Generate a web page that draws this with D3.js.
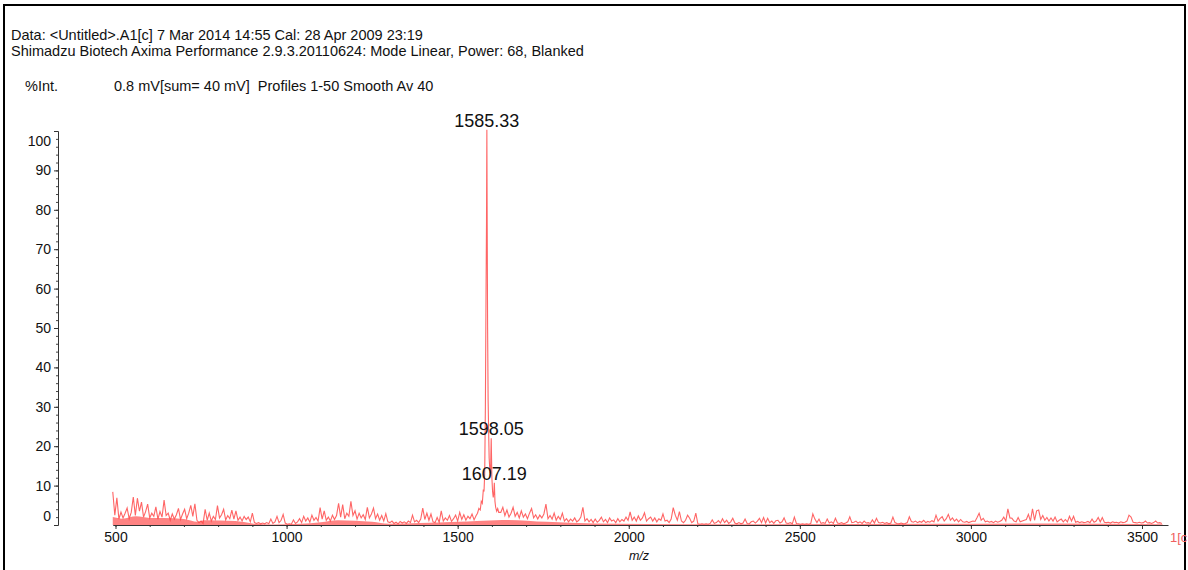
<!DOCTYPE html>
<html>
<head>
<meta charset="utf-8">
<script src="https://cdn.jsdelivr.net/npm/d3@7"></script>
<style>
  body { margin: 0; background: #fff; }
  text { font-family: Arial, "Liberation Sans", sans-serif; white-space: pre; }
</style>
</head>
<body>
<script>
// header lines
var headerLines = [
  "Data: <Untitled>.A1[c] 7 Mar 2014 14:55 Cal: 28 Apr 2009 23:19",
  "Shimadzu Biotech Axima Performance 2.9.3.20110624: Mode Linear, Power: 68, Blanked"
];
var infoLine = "0.8 mV[sum= 40 mV]  Profiles 1-50 Smooth Av 40";

var xTicks = [500, 1000, 1500, 2000, 2500, 3000, 3500];
var yTicks = [0, 10, 20, 30, 40, 50, 60, 70, 80, 90, 100];

// noise, step 6 m/z
var step = 6;
var startA = 492;
var noiseA = [
  8.4, 2.5, 6.9, 1.5, 3.3, 1.8, 3.0, 4.3, 1.6, 3.2,
  7.1, 2.4, 6.8, 3.5, 5.8, 2.0, 3.4, 5.3, 1.8, 3.0,
  2.2, 4.6, 1.5, 3.4, 2.0, 6.3, 2.4, 3.0, 1.2, 2.8,
  1.5, 2.6, 4.2, 1.4, 2.8, 4.0, 1.6, 3.0, 5.0, 2.2,
  5.4, 1.2, 0.6, 1.0, 0.4, 4.0, 1.2, 3.0, 1.0, 2.2,
  1.4, 4.9, 1.8, 2.6, 4.0, 1.3, 2.4, 1.6, 3.8, 1.5,
  3.6, 1.2, 2.0, 1.0, 2.2, 1.4, 2.0, 0.8, 3.0, 0.6,
  0.4, 0.6, 0.3, 0.5, 0.3, 0.6, 0.3, 1.5, 0.4, 0.8,
  2.2, 0.6, 1.2, 2.7, 0.5, 0.2, 0.3, 0.2, 1.3, 0.4,
  0.8, 1.6, 0.6, 2.2, 1.0, 1.8, 0.7, 2.5, 1.2, 1.9,
  1.0, 4.4, 1.5, 3.6, 1.2, 2.0, 1.0, 2.5, 1.4, 2.4,
  5.5, 2.0, 5.2, 1.6, 3.0, 2.2, 6.0, 2.4, 3.6, 1.5,
  3.0, 1.8, 2.6, 1.4, 4.5, 1.8, 2.8, 4.3,
  1.6, 2.8, 1.2, 2.4, 1.0, 2.9, 0.8, 0.6, 1.0, 0.4,
  0.7, 0.3, 0.9, 0.5, 0.8, 0.4, 1.0, 0.6, 2.5, 0.8,
  1.2, 0.6, 1.5, 4.3, 1.4, 3.0, 1.2, 2.8, 0.8, 0.6,
  1.9, 0.7, 3.6, 1.0, 1.8, 1.2, 2.4, 0.9, 1.6, 2.5,
  1.0, 3.2, 1.4, 2.6, 1.2, 2.2, 1.6, 2.8, 1.3, 2.4
];

// main peak cluster
var peakMz = [1558, 1562, 1566, 1569, 1572, 1575, 1577, 1579, 1581, 1583, 1584.3,
  1585.33, 1586.3, 1587.5, 1589, 1590.5, 1592, 1594, 1596, 1598.05, 1600, 1602,
  1604, 1605.5, 1607.19, 1609, 1611, 1614, 1617, 1620];
var peakInt = [3.0, 4.2, 3.8, 6.0, 5.5, 9.0, 8.5, 13, 30, 60, 77,
  100.3, 76, 50, 31.7, 24, 17, 14, 13, 22, 12, 8.5,
  7, 8, 10.7, 6, 4.5, 3.5, 4.2, 3.2];

var startC = 1626;
var noiseC = [
  3.2, 4.5, 2.4, 3.8, 2.0, 3.0, 4.5, 2.2, 3.2, 1.8,
  3.6, 2.0, 2.8, 1.6, 3.0, 4.2, 1.8, 2.6, 1.5, 2.5,
  1.8, 2.8, 5.3, 1.6, 2.4, 1.5, 3.0, 1.2, 2.2, 1.4,
  3.0, 1.0, 1.6, 0.8, 1.5, 1.0, 1.8, 0.8, 1.2, 2.0,
  4.5, 1.0, 1.6, 0.8, 1.4, 0.6, 1.5, 0.7, 1.2, 2.0,
  0.8, 1.4, 0.6, 1.8, 1.0, 1.3, 0.6, 1.6, 0.8, 1.4,
  1.0, 2.0, 1.2, 3.3, 1.2, 2.0, 1.0, 2.3, 1.2, 1.8,
  3.1, 1.0, 1.6, 2.0, 1.0, 1.8, 0.8, 1.6, 1.2, 2.8,
  1.0, 1.2, 0.6, 1.5, 4.4, 2.5, 1.2, 3.4, 1.0, 0.6,
  1.2, 2.5, 1.7, 0.6, 1.0, 3.0, 0.3, 0.2, 0.3, 0.2,
  0.3, 0.2, 0.4, 1.3, 0.4, 0.6, 1.1, 0.5, 1.6, 0.6,
  1.2, 0.4, 0.8, 1.7, 0.5, 0.3, 0.6, 0.3, 0.5, 1.5,
  0.4, 0.3, 0.8, 1.0, 0.5, 1.0, 1.7, 0.6, 1.9, 0.5,
  1.7, 0.6, 1.0, 0.4, 1.1, 1.2, 0.5, 0.8, 1.8, 0.5,
  0.4, 0.6, 0.3, 2.0, 0.4, 0.3, 0.2, 0.3, 0.2, 0.3,
  0.2, 0.4, 2.8, 1.5, 0.6, 1.5, 0.4, 0.6, 0.4, 1.5,
  0.5, 0.8, 0.4,
  1.7, 0.5, 0.4, 0.6, 0.3, 0.5, 0.8, 2.1, 0.6, 0.7,
  1.0, 0.5, 0.8, 0.4, 1.0, 0.5, 0.6, 0.4, 1.3, 0.5,
  1.7, 0.6, 0.5, 0.7, 0.4, 0.6, 0.3, 0.5, 2.0, 0.6,
  0.4, 0.3, 0.5, 0.3, 0.4, 0.6, 2.1, 0.9, 0.7, 1.0,
  0.6, 0.9, 0.7, 1.2, 0.6, 0.9, 0.7, 1.1, 0.8, 2.5,
  1.0, 1.7, 2.1, 1.0, 1.6, 2.7, 1.2, 1.8, 1.0, 1.5,
  0.8, 1.4, 0.8, 0.7, 0.9, 0.6, 0.8, 1.0, 0.9, 1.9,
  3.0, 1.2, 1.7, 0.8, 1.0, 0.7, 0.9, 0.6, 1.0, 0.7,
  0.9, 1.2, 2.0, 1.0, 4.1, 1.8, 1.7, 1.0, 0.8, 1.9,
  0.8, 1.0, 1.2, 1.4, 2.7, 1.0, 4.1, 1.2, 3.6, 3.8,
  1.4, 2.4, 1.2, 1.9, 1.0, 1.8, 1.0, 2.0, 0.8, 1.2,
  1.5, 0.8, 1.4, 0.8, 2.2, 1.0, 2.2, 0.7, 0.9, 0.6,
  0.8, 0.6, 0.7, 0.9, 0.6, 1.5, 0.7, 1.0, 1.9, 0.8,
  1.9, 0.7, 0.6, 0.7, 0.5, 0.8, 0.6, 0.7, 0.5, 0.8,
  0.6, 0.7, 1.0, 2.5, 2.0, 0.7, 0.6, 0.5, 0.7, 0.5,
  0.6, 1.0, 0.5, 0.6, 0.4, 0.6, 1.0, 0.5, 0.6, 0.4
];

// lower envelope of the dense noise (solid-looking band)
var floorMz = [492, 520, 560, 600, 640, 700, 740, 760, 850, 900, 960, 1040, 1100,
  1150, 1250, 1300, 1390, 1500, 1556, 1630, 1760, 1900, 2200, 2900, 3250, 3560];
var floorInt = [2.0, 1.6, 2.2, 1.8, 1.8, 1.5, 0.8, 1.2, 1.0, 0.4, 0.1, 0.3, 0.7,
  1.2, 0.8, 0.3, 0.5, 0.8, 1.0, 1.3, 0.8, 0.4, 0.2, 0.3, 0.4, 0.2];

var peakLabels = [
  { mz: 1585.33, v: 100.3, text: "1585.33" },
  { mz: 1598.05, v: 22, text: "1598.05" },
  { mz: 1607.19, v: 10.7, text: "1607.19" }
];

var spectrum = [];
noiseA.forEach(function (v, i) { spectrum.push([startA + i * step, v]); });
peakMz.forEach(function (m, i) { spectrum.push([m, peakInt[i]]); });
noiseC.forEach(function (v, i) { spectrum.push([startC + i * step, v]); });

var floorData = floorMz.map(function (m, i) { return [m, floorInt[i]]; });

var svg = d3.select("body")
            .append("svg")
            .attr("width", 1188)
            .attr("height", 570);

// frame
svg.append("rect")
    .attr("x", 4)
    .attr("y", 5)
    .attr("width", 1181)
    .attr("height", 600)
    .attr("fill", "none")
    .attr("stroke", "black")
    .attr("stroke-width", 2);

svg.selectAll(".hdr")
    .data(headerLines)
    .enter().append("text")
    .attr("x", 11)
    .attr("y", function (d, i) { return 40 + i * 16; })
    .attr("font-size", 14.5)
    .attr("fill", "#111")
    .text(function (d) { return d; });

svg.append("text")
    .attr("x", 25).attr("y", 91)
    .attr("font-size", 14.5).attr("fill", "#111")
    .text("%Int.");

svg.append("text")
    .attr("x", 114).attr("y", 91)
    .attr("font-size", 14.5).attr("fill", "#111")
    .text(infoLine);

var xs = d3.scaleLinear().domain([500, 3500]).range([115.5, 1142]);
var x = d3.scaleLinear().domain([492, 3576]).range([xs(492), xs(3576)]);
var y = d3.scaleLinear().domain([0, 100]).range([525, 131]);

// spectrum noise band
var area = d3.area()
    .x(function (d) { return x(d[0]); })
    .y0(y(0))
    .y1(function (d) { return y(d[1]); })
    .curve(d3.curveMonotoneX);

svg.append("path")
    .datum(floorData)
    .attr("d", area)
    .attr("fill", "#ff5a5a")
    .attr("fill-opacity", 0.75);

// x axis
var gx = svg.append("g").attr("transform", "translate(0," + y(0) + ")");
gx.call(d3.axisBottom(x).tickValues(d3.range(500, 3501, 100)).tickSize(2).tickSizeOuter(0).tickFormat(""));
gx.select(".domain").remove();
var gx2 = svg.append("g").attr("transform", "translate(0," + y(0) + ")");
gx2.call(d3.axisBottom(x).tickValues(xTicks).tickSize(4).tickSizeOuter(0).tickFormat(d3.format("d")));
gx2.selectAll("text").attr("font-size", 14).attr("fill", "#111").attr("font-family", "Arial, 'Liberation Sans', sans-serif");
gx2.selectAll("line, path").attr("stroke", "#333");
gx.selectAll("line").attr("stroke", "#333");

svg.append("text")
    .attr("x", 639).attr("y", 560)
    .attr("text-anchor", "middle")
    .attr("font-size", 12.5).attr("font-style", "italic").attr("fill", "#111")
    .text("m/z");

// y axis
var gy = svg.append("g").attr("transform", "translate(58,0)");
gy.call(d3.axisLeft(y).tickValues(d3.range(0, 101, 2)).tickSize(2).tickFormat(""));
gy.select(".domain").remove();
gy.selectAll("line").attr("stroke", "#444");
var gy2 = svg.append("g").attr("transform", "translate(58,0)");
gy2.call(d3.axisLeft(y).tickValues(yTicks).tickSize(4).tickSizeOuter(4));
gy2.selectAll("line, path").attr("stroke", "#333");
gy2.selectAll("text")
    .attr("font-size", 14).attr("fill", "#111")
    .attr("font-family", "Arial, 'Liberation Sans', sans-serif")
    .attr("dy", function (d) { return d === 100 ? "1.0em" : d === 0 ? "-0.35em" : "0.32em"; });

// spectrum
var line = d3.line()
    .x(function (d) { return x(d[0]); })
    .y(function (d) { return y(d[1]); });

svg.append("path")
    .datum(spectrum)
    .attr("d", line)
    .attr("fill", "none")
    .attr("stroke", "#ff4a4a")
    .attr("stroke-width", 1.1)
    .attr("stroke-opacity", 0.85);

// peak labels
svg.selectAll(".pk")
    .data(peakLabels)
    .enter().append("text")
    .attr("x", function (d) { return x(d.mz); })
    .attr("y", function (d) { return y(d.v) - 3; })
    .attr("text-anchor", "middle")
    .attr("font-size", 18)
    .attr("fill", "#111")
    .text(function (d) { return d.text; });

svg.append("text")
    .attr("x", 1170).attr("y", 542)
    .attr("font-size", 13).attr("fill", "#f06060")
    .text("1[c");
</script>
</body>
</html>
